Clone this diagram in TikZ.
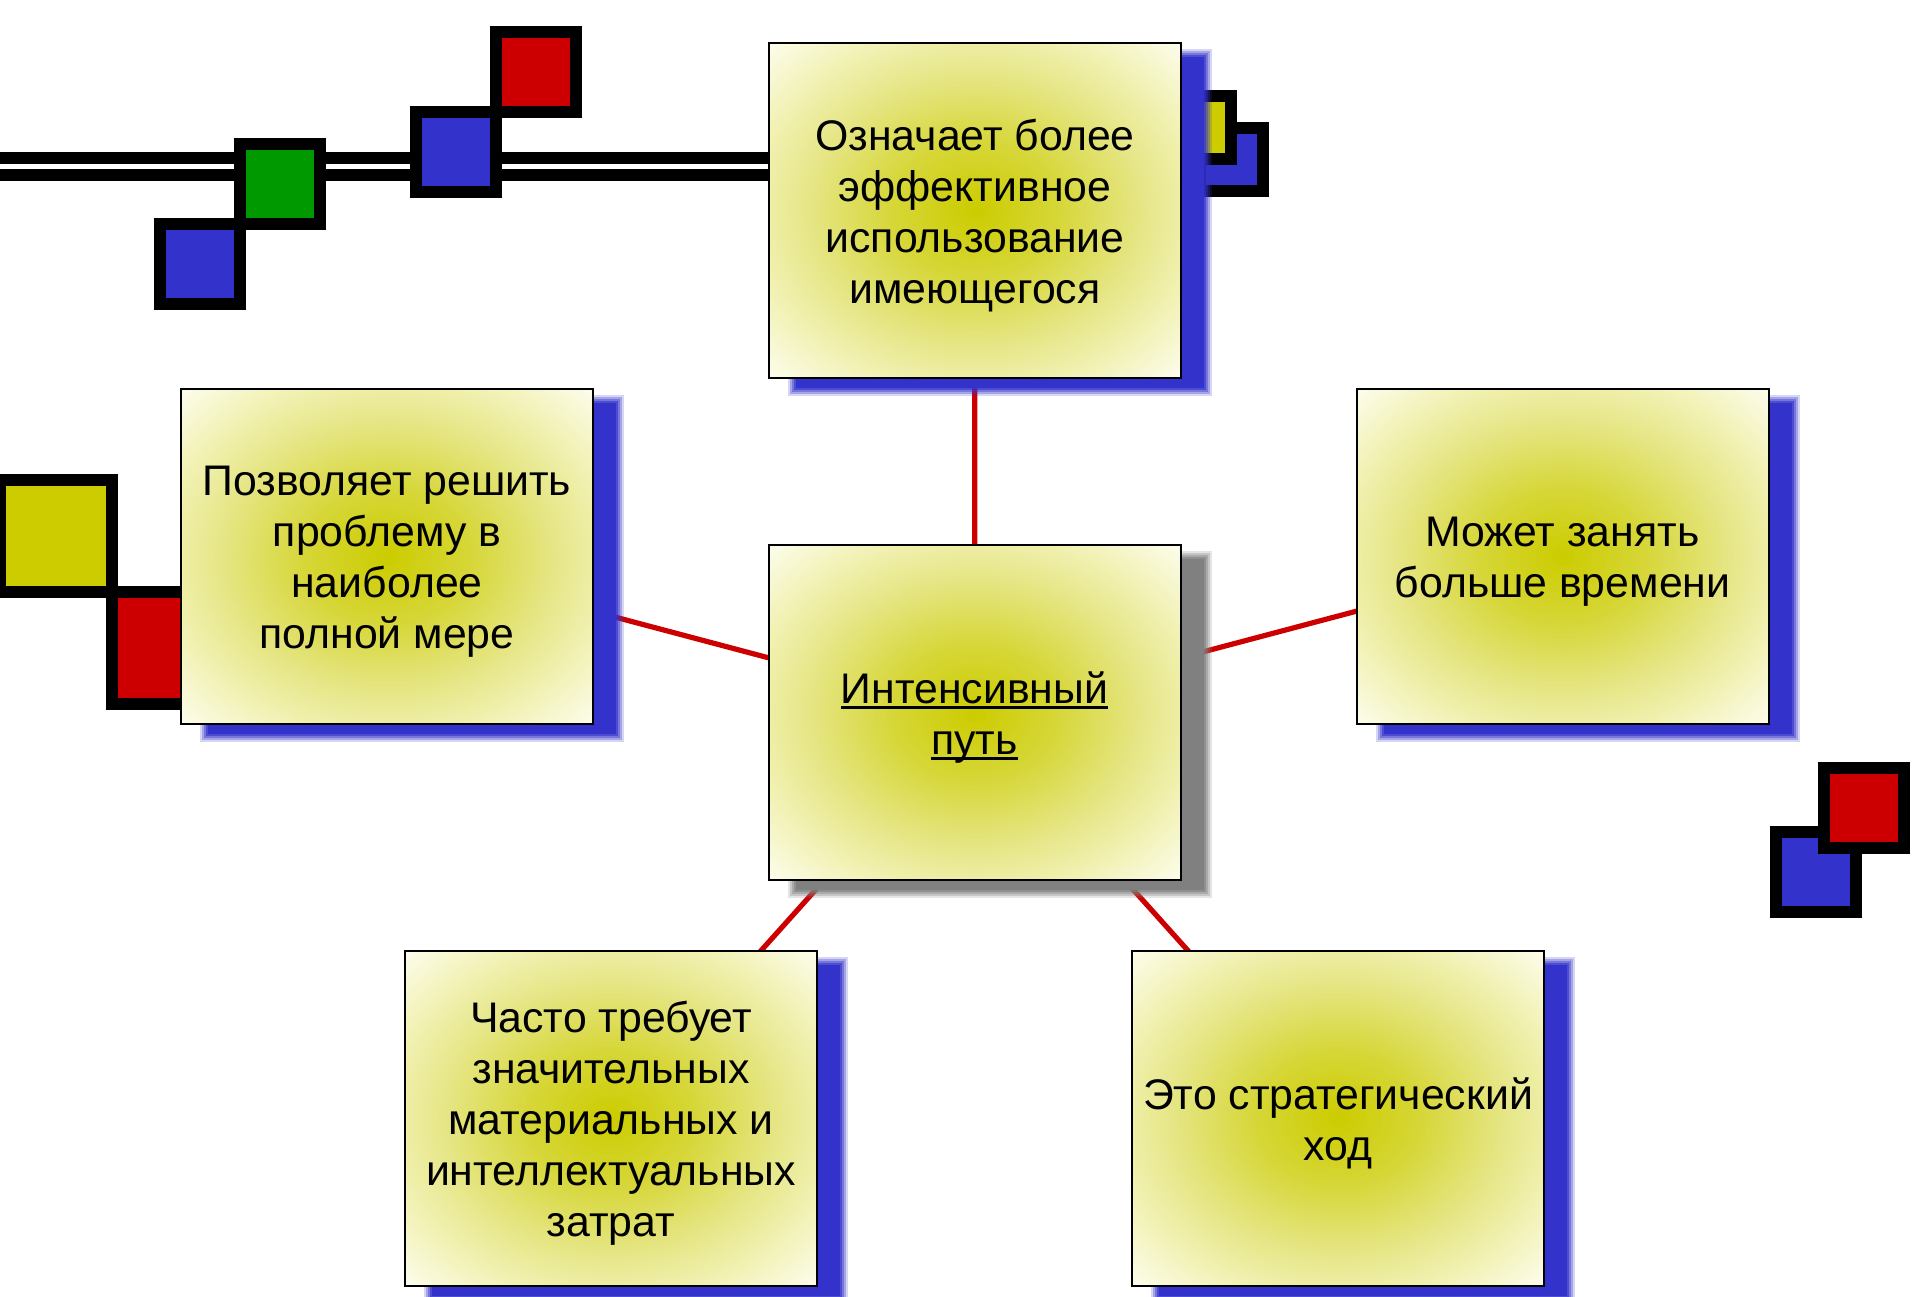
\documentclass[tikz,border=0pt]{standalone}
\usepackage{fontspec}
\setmainfont{Liberation Sans}
\usetikzlibrary{calc}
\definecolor{sqblue}{RGB}{51,51,204}
\definecolor{sqred}{RGB}{204,0,0}
\definecolor{sqgreen}{RGB}{0,153,0}
\definecolor{sqyellow}{RGB}{204,204,0}
\definecolor{shgray}{RGB}{128,128,128}
\definecolor{linkred}{RGB}{204,0,0}
\pgfdeclareradialshading{boxshade}{\pgfpoint{0bp}{0bp}}{rgb(0bp)=(0.8,0.8,0); rgb(10bp)=(0.84,0.84,0.22); rgb(20bp)=(0.90,0.90,0.52); rgb(27bp)=(0.945,0.945,0.70); rgb(36bp)=(0.995,0.995,0.95); rgb(50bp)=(1,1,1)}
\pgfdeclarelayer{deco}
\pgfdeclarelayer{links}
\pgfdeclarelayer{shadows}
\pgfsetlayers{deco,links,shadows,main}
\newcommand\myul[1]{\setbox0\hbox{#1}\rlap{\rule[-2.8pt]{\wd0}{1.6pt}}\box0}
\newcommand\boxshadow[2]{%
  \foreach \d/\o in {2.5/0.2,1.5/0.3,0.5/0.4,-0.5/0.6,-1.5/1}{%
    \fill[#2, opacity=\o] ($(#1.north west)+({12.5pt-(\d)*1pt},{-6pt+(\d)*1pt})$) rectangle ($(#1.south east)+({12.5pt+(\d)*1pt},{-6pt-(\d)*1pt})$);}}
\tikzset{
  sq/.style={draw=black, line width=6pt},
  box/.style={draw=black, line width=1pt, shade, shading=boxshade, minimum width=206pt, minimum height=167.5pt, inner sep=0pt},
  boxtext/.style={align=center, inner sep=0pt, yshift=-2.6pt, font=\fontsize{21.4}{25.5}\selectfont},
  link/.style={draw=linkred, line width=2.6pt},
}
\begin{document}
\begin{tikzpicture}[x=0.5pt,y=-0.5pt]
\useasboundingbox (0,0) rectangle (1920,1296);
% boxes
\node[box] (top) at (975,210) {};
\node[box] (lft) at (387,556.5) {};
\node[box] (ctr) at (974.5,712.5) {};
\node[box] (rgt) at (1562.5,556.5) {};
\node[box] (bl) at (611,1118) {};
\node[box] (br) at (1338,1118) {};
\node[boxtext] (topt) at (top.center) {Означает более\\эффективное\\использование\\имеющегося};
\node[boxtext] (lftt) at (lft.center) {Позволяет решить\\проблему в\\наиболее\\полной мере};
\node[boxtext] (ctrt) at (ctr.center) {\myul{Интенсивный}\\\myul{путь}};
\node[boxtext] (rgtt) at (rgt.center) {Может занять\\больше времени};
\node[boxtext] (blt) at (bl.center) {Часто требует\\значительных\\материальных и\\интеллектуальных\\затрат};
\node[boxtext] (brt) at (br.center) {Это стратегический\\ход};
% decorations
\begin{pgfonlayer}{deco}
\fill[white] (0,0) rectangle (1920,1296);
\coordinate (dl) at (0,166.5);
\draw[line width=6pt, double=white, double distance=2.5pt] (dl) -- (top.west |- dl);
\filldraw[sq, fill=sqgreen] (240,144) rectangle (320,224);
\filldraw[sq, fill=sqblue] (160,224) rectangle (240,304);
\filldraw[sq, fill=sqblue] (416,112) rectangle (496,192);
\filldraw[sq, fill=sqred] (496,32) rectangle (576,112);
\filldraw[sq, fill=sqblue] (1200,128) rectangle (1263,191);
\filldraw[sq, fill=sqyellow] (1168,96) rectangle (1231,159);
\filldraw[sq, fill=sqyellow] (0,480) rectangle (112,592);
\filldraw[sq, fill=sqred] (112,592) rectangle (224,704);
\filldraw[sq, fill=sqblue] (1776,832) rectangle (1856,912);
\filldraw[sq, fill=sqred] (1824,768) rectangle (1904,848);
\end{pgfonlayer}
% connectors
\begin{pgfonlayer}{links}
\draw[link] (ctr.center) -- (top.center);
\draw[link] (ctr.center) -- (lft.center);
\draw[link] (ctr.center) -- (rgt.center);
\draw[link] (ctr.center) -- (bl.center);
\draw[link] (ctr.center) -- (br.center);
\end{pgfonlayer}
% shadows
\begin{pgfonlayer}{shadows}
\boxshadow{top}{sqblue}
\boxshadow{lft}{sqblue}
\boxshadow{ctr}{shgray}
\boxshadow{rgt}{sqblue}
\boxshadow{bl}{sqblue}
\boxshadow{br}{sqblue}
\end{pgfonlayer}
\end{tikzpicture}
\end{document}
